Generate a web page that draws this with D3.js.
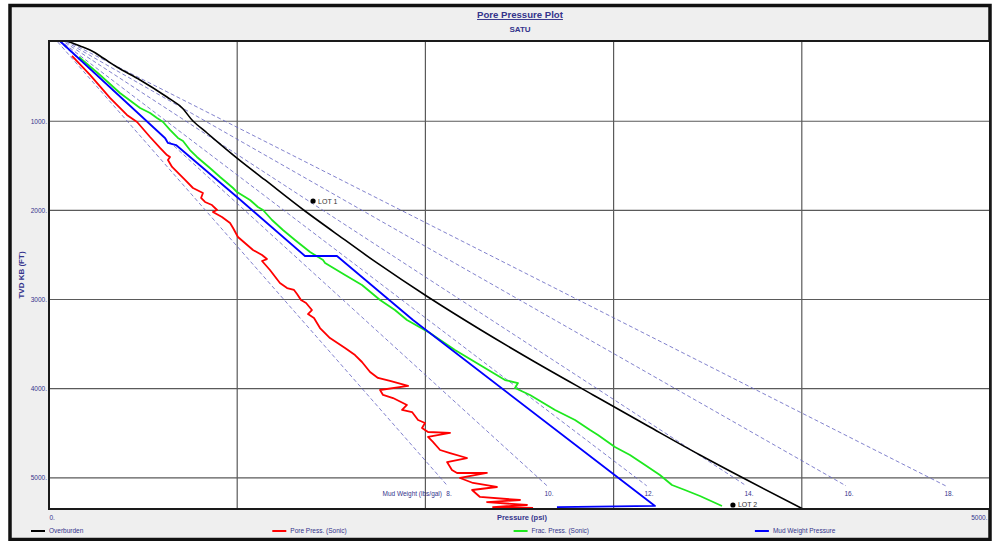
<!DOCTYPE html>
<html>
<head>
<meta charset="utf-8">
<script src="https://cdnjs.cloudflare.com/ajax/libs/d3/7.8.5/d3.min.js"></script>
<style>
    body { margin: 0; background: #fff; }
    svg { display: block; font-family: "Liberation Sans", Arial, sans-serif; }
</style>
</head>
<body>
<div id="chart"></div>
<script>
// [depth (ft), pressure (psi)]
var overburden = [[100,96],[156,165],[201,218],[291,287],[392,361],[537,484],[728,627],[829,696],[997,765],
    [1132,840],[1413,999],[1659,1148],[2007,1360],[2243,1514],[2590,1743],[2972,2014],
    [3342,2295],[3701,2582],[4071,2891],[4419,3183],[4744,3459],[5025,3709],[5350,4006]];

var porePress = [[268,122],[481,218],[739,324],[930,414],[1009,468],[1177,537],[1300,590],[1379,627],
    [1401,643],[1435,632],[1513,654],[1659,723],[1749,765],[1805,818],[1861,808],[1906,829],[1940,866],
    [1996,893],[2018,871],[2074,919],[2142,962],[2198,978],[2299,1004],[2366,1041],[2445,1084],
    [2501,1132],[2546,1158],[2568,1132],[2669,1174],[2815,1227],[2871,1265],[2893,1302],[2938,1318],
    [3006,1339],[3039,1366],[3118,1397],[3163,1376],[3207,1408],[3320,1440],[3432,1493],[3544,1573],
    [3623,1626],[3701,1663],[3813,1706],[3880,1748],[3914,1812],[3970,1908],[4015,1759],[4071,1775],
    [4105,1828],[4183,1902],[4239,1876],[4262,1929],[4352,1961],[4385,1998],[4441,1982],[4486,2014],
    [4497,2131],[4542,2014],[4598,2040],[4688,2078],[4722,2131],[4778,2221],[4823,2115],[4913,2141],
    [4946,2168],[4946,2327],[5002,2184],[5058,2253],[5103,2380],[5137,2248],[5215,2290],[5249,2503],
    [5272,2327],[5305,2540],[5328,2359],[5339,2572]];

var fracPress = [[280,159],[481,271],[683,377],[852,484],[908,537],[964,574],[1009,606],[1098,643],
    [1188,685],[1222,712],[1323,749],[1401,786],[1525,855],[1626,909],[1749,978],[1794,999],[1884,1068],
    [1962,1110],[1996,1137],[2108,1185],[2220,1243],[2332,1307],[2467,1387],[2557,1456],[2590,1467],
    [2725,1573],[2837,1663],[3006,1759],[3118,1838],[3230,1902],[3376,2024],[3566,2157],[3735,2290],
    [3903,2423],[3937,2492],[3993,2476],[4071,2556],[4239,2689],[4352,2795],[4464,2875],[4520,2917],
    [4655,3007],[4744,3087],[4856,3167],[4969,3246],[5081,3310],[5137,3379],[5204,3459],[5316,3576]];

var mudWeightPress = [[100,58],[1188,616],[1244,632],[1267,675],[1850,999],[2512,1360],[2512,1530],
    [3230,1934],[5316,3220],[5328,2699]];

var lotPoints = [["LOT 1",1895,1403],["LOT 2",5305,3634]];

var mudWeights = [8,10,12,14,16,18];           // lbs/gal reference lines
var depthTicks = [1000,2000,3000,4000,5000];
var pressureGrid = [1000,2000,3000,4000];
var pressureLabels = [0,5000];

var seriesNames = ["Overburden","Pore Press. (Sonic)","Frac. Press. (Sonic)","Mud Weight Pressure"];
var seriesColors = ["#000000","#ff0000","#1ee81e","#0000ff"];

var svgWidth = 995, svgHeight = 541;
var margin = {top: 41, right: 5, bottom: 32, left: 49};
var width = svgWidth - margin.left - margin.right;
var height = svgHeight - margin.top - margin.bottom;
var navy = "#34348c";

var svgBG = d3.select("#chart").append("svg")
    .attr("width", svgWidth)
    .attr("height", svgHeight);

// outer frame
svgBG.append("rect")
    .attr("x", 10).attr("y", 5.5)
    .attr("width", 980).attr("height", 534)
    .attr("fill", "#efefef")
    .attr("stroke", "#111").attr("stroke-width", 3.5);

var svg = svgBG.append("g")
    .attr("transform", "translate(" + margin.left + "," + margin.top + ")");

var x = d3.scaleLinear().domain([0, 5000]).range([0, width]);
var y = d3.scaleLinear().domain([100, 5350]).range([0, height]);

svg.append("rect")
    .attr("width", width).attr("height", height)
    .attr("fill", "#fff");

svg.append("clipPath").attr("id", "clip")
    .append("rect").attr("width", width).attr("height", height);

// grid
svg.selectAll(".hgrid").data(depthTicks).enter().append("line")
    .attr("x1", 0).attr("x2", width)
    .attr("y1", function(d) { return y(d); })
    .attr("y2", function(d) { return y(d); })
    .attr("stroke", "#5a5a5a").attr("stroke-width", 1.2);

svg.selectAll(".vgrid").data(pressureGrid).enter().append("line")
    .attr("y1", 0).attr("y2", height)
    .attr("x1", function(d) { return x(d); })
    .attr("x2", function(d) { return x(d); })
    .attr("stroke", "#5a5a5a").attr("stroke-width", 1.2);

// axes
var yAxis = d3.axisLeft(y).tickValues(depthTicks).tickSize(0).tickPadding(2)
    .tickFormat(function(d) { return d + "."; });
var yAxisSVG = svg.append("g").attr("class", "y axis").call(yAxis);
yAxisSVG.select(".domain").remove();
yAxisSVG.selectAll("text").attr("fill", navy).style("font-size", "6.5px");

var xAxis = d3.axisBottom(x).tickValues(pressureLabels).tickSize(0).tickPadding(6)
    .tickFormat(function(d) { return d + "."; });
var xAxisSVG = svg.append("g").attr("class", "x axis")
    .attr("transform", "translate(0," + height + ")")
    .call(xAxis);
xAxisSVG.select(".domain").remove();
xAxisSVG.selectAll("text").attr("fill", navy).style("font-size", "6.5px")
    .attr("text-anchor", function(d) { return d == 0 ? "start" : "end"; })
    .attr("dx", function(d) { return d == 0 ? 0 : -3; });

svg.append("text")
    .attr("x", x(2380)).attr("y", height + 11)
    .attr("fill", navy).style("font-size", "7.5px").style("font-weight", "bold")
    .text("Pressure (psi)");

svg.append("text")
    .attr("transform", "translate(-25," + (height / 2) + ") rotate(-90)")
    .attr("text-anchor", "middle")
    .attr("fill", navy).style("font-size", "8px").style("font-weight", "bold")
    .text("TVD KB (FT)");

// mud weight reference lines: p = 0.052 * MW * TVD
var plot = svg.append("g").attr("clip-path", "url(#clip)");
var mwEnd = 5090, mwLabel = 5109;
plot.selectAll(".mw").data(mudWeights).enter().append("line")
    .attr("x1", x(0)).attr("y1", y(0))
    .attr("x2", function(d) { return x(0.052 * d * mwEnd); })
    .attr("y2", y(mwEnd))
    .attr("stroke", "#6262c0").attr("stroke-width", 0.8)
    .attr("stroke-dasharray", "4,2.5");

svg.selectAll(".mwlabel").data(mudWeights).enter().append("text")
    .attr("x", function(d) { return x(0.052 * d * mwLabel); })
    .attr("y", y(mwLabel) + 8)
    .attr("text-anchor", "middle")
    .attr("fill", navy).style("font-size", "6.5px")
    .text(function(d) { return d + "."; });

svg.append("text")
    .attr("x", x(0.052 * mudWeights[0] * mwLabel) - 7)
    .attr("y", y(mwLabel) + 8)
    .attr("text-anchor", "end")
    .attr("fill", navy).style("font-size", "6.5px")
    .text("Mud Weight (lbs/gal)");

// curves
var line = d3.line()
    .x(function(d) { return x(d[1]); })
    .y(function(d) { return y(d[0]); });
var smoothLine = d3.line()
    .curve(d3.curveMonotoneY)
    .x(function(d) { return x(d[1]); })
    .y(function(d) { return y(d[0]); });

var allSeries = [overburden, porePress, fracPress, mudWeightPress];
plot.selectAll(".curve").data(allSeries).enter().append("path")
    .attr("d", function(d, i) { return i == 0 ? smoothLine(d) : line(d); })
    .attr("fill", "none")
    .attr("stroke", function(d, i) { return seriesColors[i]; })
    .attr("stroke-width", function(d, i) { return i == 0 ? 1.6 : 1.8; })
    .attr("stroke-linejoin", "round");

// leak-off tests
var lots = svg.selectAll(".lot").data(lotPoints).enter().append("g")
    .attr("transform", function(d) { return "translate(" + x(d[2]) + "," + y(d[1]) + ")"; });
lots.append("circle").attr("r", 2.6).attr("fill", "#000");
lots.append("text").attr("x", 5).attr("y", 2.5)
    .attr("fill", "#333").style("font-size", "7px")
    .text(function(d) { return d[0]; });

// plot border
svg.append("rect")
    .attr("width", width).attr("height", height)
    .attr("fill", "none").attr("stroke", "#1a1a1a").attr("stroke-width", 2);

// title
svgBG.append("text")
    .attr("x", 520).attr("y", 18)
    .attr("text-anchor", "middle")
    .attr("fill", navy).style("font-size", "9.6px").style("font-weight", "bold")
    .style("text-decoration", "underline")
    .text("Pore Pressure Plot");
svgBG.append("text")
    .attr("x", 520).attr("y", 32)
    .attr("text-anchor", "middle")
    .attr("fill", navy).style("font-size", "8px").style("font-weight", "bold")
    .text("SATU");

// legend
var legend = svgBG.selectAll(".legend").data(seriesNames).enter().append("g")
    .attr("transform", function(d, i) { return "translate(" + (31 + i * 241.3) + ",531)"; });
legend.append("line")
    .attr("x1", 0).attr("x2", 14)
    .attr("stroke", function(d, i) { return seriesColors[i]; })
    .attr("stroke-width", 2);
legend.append("text")
    .attr("x", 18).attr("y", 2.3)
    .attr("fill", navy).style("font-size", "6.5px")
    .text(function(d) { return d; });
</script>
</body>
</html>
